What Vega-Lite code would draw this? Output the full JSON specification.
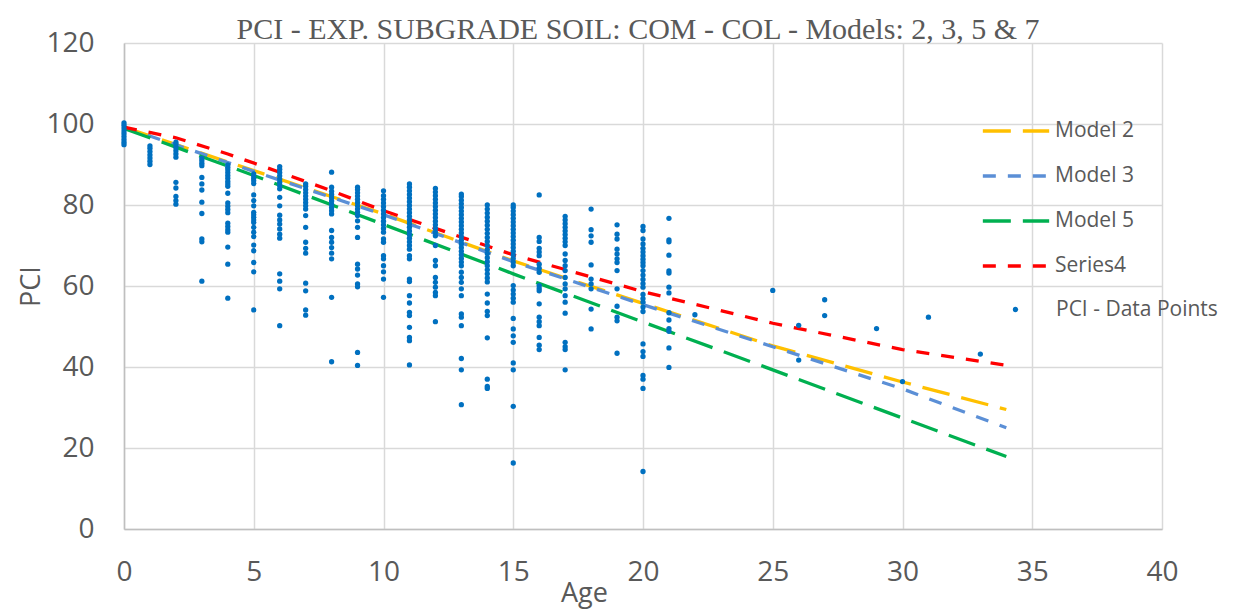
{
  "$schema": "https://vega.github.io/schema/vega-lite/v6.json",
  "width": 1038,
  "height": 486,
  "autosize": {"type": "none"},
  "padding": {"left": 124, "top": 43, "right": 91, "bottom": 86},
  "background": "white",
  "title": {
    "text": "PCI - EXP. SUBGRADE SOIL: COM - COL - Models:  2, 3, 5 & 7",
    "font": "Liberation Serif",
    "fontSize": 30,
    "fontWeight": "normal",
    "color": "#595959",
    "frame": "group",
    "anchor": "middle",
    "baseline": "alphabetic",
    "offset": 8,
    "dx": -5,
    "dy": 48
  },
  "datasets": {
    "lines": [
      {"series": "Model 2", "age": 0, "pci": 99.2},
      {"series": "Model 2", "age": 5, "pci": 88.5},
      {"series": "Model 2", "age": 10, "pci": 77.8},
      {"series": "Model 2", "age": 15, "pci": 66.2},
      {"series": "Model 2", "age": 20, "pci": 55.7},
      {"series": "Model 2", "age": 25, "pci": 45.2},
      {"series": "Model 2", "age": 30, "pci": 36.3},
      {"series": "Model 2", "age": 34, "pci": 29.5},
      {"series": "Model 3", "age": 0, "pci": 99.2},
      {"series": "Model 3", "age": 5, "pci": 88.3},
      {"series": "Model 3", "age": 10, "pci": 77.6},
      {"series": "Model 3", "age": 15, "pci": 66.0},
      {"series": "Model 3", "age": 20, "pci": 55.4},
      {"series": "Model 3", "age": 25, "pci": 45.0},
      {"series": "Model 3", "age": 30, "pci": 34.6},
      {"series": "Model 3", "age": 34, "pci": 25.0},
      {"series": "Model 5", "age": 0, "pci": 98.9},
      {"series": "Model 5", "age": 5, "pci": 87.3},
      {"series": "Model 5", "age": 10, "pci": 75.2},
      {"series": "Model 5", "age": 15, "pci": 63.0},
      {"series": "Model 5", "age": 20, "pci": 51.1},
      {"series": "Model 5", "age": 25, "pci": 39.3},
      {"series": "Model 5", "age": 30, "pci": 27.4},
      {"series": "Model 5", "age": 34, "pci": 17.9},
      {"series": "Series4", "age": 0, "pci": 99.2},
      {"series": "Series4", "age": 2, "pci": 96.6},
      {"series": "Series4", "age": 4, "pci": 92.6},
      {"series": "Series4", "age": 6, "pci": 88.1},
      {"series": "Series4", "age": 8, "pci": 83.5},
      {"series": "Series4", "age": 10, "pci": 78.6},
      {"series": "Series4", "age": 15, "pci": 67.7},
      {"series": "Series4", "age": 20, "pci": 58.6},
      {"series": "Series4", "age": 25, "pci": 50.8},
      {"series": "Series4", "age": 30, "pci": 44.3},
      {"series": "Series4", "age": 34, "pci": 40.4}
    ],
    "points": [
      {"age": 0, "pci": 94.9}, {"age": 0, "pci": 95.5}, {"age": 0, "pci": 96.2}, {"age": 0, "pci": 96.9}, {"age": 0, "pci": 97.6}, {"age": 0, "pci": 98.3}, {"age": 0, "pci": 99.0}, {"age": 0, "pci": 99.7}, {"age": 0, "pci": 100.3},
      {"age": 1, "pci": 90.0}, {"age": 1, "pci": 90.8}, {"age": 1, "pci": 91.6}, {"age": 1, "pci": 92.4}, {"age": 1, "pci": 93.2}, {"age": 1, "pci": 94.0}, {"age": 1, "pci": 94.6},
      {"age": 2, "pci": 91.8}, {"age": 2, "pci": 92.6}, {"age": 2, "pci": 93.4}, {"age": 2, "pci": 94.2}, {"age": 2, "pci": 95.0}, {"age": 2, "pci": 95.5}, {"age": 2, "pci": 85.6}, {"age": 2, "pci": 84.2}, {"age": 2, "pci": 82.1}, {"age": 2, "pci": 81.1}, {"age": 2, "pci": 80.2},
      {"age": 3, "pci": 89.7}, {"age": 3, "pci": 90.3}, {"age": 3, "pci": 90.9}, {"age": 3, "pci": 91.5}, {"age": 3, "pci": 86.8}, {"age": 3, "pci": 85.2}, {"age": 3, "pci": 83.7}, {"age": 3, "pci": 80.7}, {"age": 3, "pci": 77.9}, {"age": 3, "pci": 71.6}, {"age": 3, "pci": 70.9}, {"age": 3, "pci": 61.2},
      {"age": 4, "pci": 86.6}, {"age": 4, "pci": 87.3}, {"age": 4, "pci": 88.0}, {"age": 4, "pci": 88.7}, {"age": 4, "pci": 89.3}, {"age": 4, "pci": 89.9}, {"age": 4, "pci": 85.8}, {"age": 4, "pci": 85.2}, {"age": 4, "pci": 84.6}, {"age": 4, "pci": 82.9}, {"age": 4, "pci": 80.5}, {"age": 4, "pci": 79.7}, {"age": 4, "pci": 78.9}, {"age": 4, "pci": 78.1}, {"age": 4, "pci": 75.5}, {"age": 4, "pci": 74.7}, {"age": 4, "pci": 73.9}, {"age": 4, "pci": 73.3}, {"age": 4, "pci": 69.6}, {"age": 4, "pci": 65.4}, {"age": 4, "pci": 57.0},
      {"age": 5, "pci": 85.3}, {"age": 5, "pci": 86.0}, {"age": 5, "pci": 86.6}, {"age": 5, "pci": 87.2}, {"age": 5, "pci": 87.7}, {"age": 5, "pci": 82.5}, {"age": 5, "pci": 81.1}, {"age": 5, "pci": 79.8}, {"age": 5, "pci": 78.2}, {"age": 5, "pci": 77.6}, {"age": 5, "pci": 77.0}, {"age": 5, "pci": 76.3}, {"age": 5, "pci": 75.7}, {"age": 5, "pci": 74.5}, {"age": 5, "pci": 73.3}, {"age": 5, "pci": 72.2}, {"age": 5, "pci": 70.1}, {"age": 5, "pci": 68.7}, {"age": 5, "pci": 65.8}, {"age": 5, "pci": 63.5}, {"age": 5, "pci": 54.1},
      {"age": 6, "pci": 84.0}, {"age": 6, "pci": 84.8}, {"age": 6, "pci": 85.6}, {"age": 6, "pci": 86.4}, {"age": 6, "pci": 87.2}, {"age": 6, "pci": 88.0}, {"age": 6, "pci": 88.8}, {"age": 6, "pci": 89.5}, {"age": 6, "pci": 81.9}, {"age": 6, "pci": 79.8}, {"age": 6, "pci": 77.5}, {"age": 6, "pci": 76.3}, {"age": 6, "pci": 75.3}, {"age": 6, "pci": 74.1}, {"age": 6, "pci": 72.8}, {"age": 6, "pci": 71.8}, {"age": 6, "pci": 63.0}, {"age": 6, "pci": 61.2}, {"age": 6, "pci": 59.3}, {"age": 6, "pci": 50.2},
      {"age": 7, "pci": 79.0}, {"age": 7, "pci": 79.8}, {"age": 7, "pci": 80.6}, {"age": 7, "pci": 81.4}, {"age": 7, "pci": 82.2}, {"age": 7, "pci": 83.0}, {"age": 7, "pci": 83.8}, {"age": 7, "pci": 84.6}, {"age": 7, "pci": 85.2}, {"age": 7, "pci": 77.4}, {"age": 7, "pci": 74.5}, {"age": 7, "pci": 70.8}, {"age": 7, "pci": 69.3}, {"age": 7, "pci": 68.1}, {"age": 7, "pci": 60.7}, {"age": 7, "pci": 58.8}, {"age": 7, "pci": 54.1}, {"age": 7, "pci": 52.8},
      {"age": 8, "pci": 88.1}, {"age": 8, "pci": 77.8}, {"age": 8, "pci": 78.6}, {"age": 8, "pci": 79.4}, {"age": 8, "pci": 80.2}, {"age": 8, "pci": 81.0}, {"age": 8, "pci": 81.8}, {"age": 8, "pci": 82.6}, {"age": 8, "pci": 83.4}, {"age": 8, "pci": 84.4}, {"age": 8, "pci": 73.7}, {"age": 8, "pci": 72.0}, {"age": 8, "pci": 70.8}, {"age": 8, "pci": 69.5}, {"age": 8, "pci": 68.1}, {"age": 8, "pci": 66.7}, {"age": 8, "pci": 57.2}, {"age": 8, "pci": 41.3},
      {"age": 9, "pci": 79.0}, {"age": 9, "pci": 79.8}, {"age": 9, "pci": 80.6}, {"age": 9, "pci": 81.4}, {"age": 9, "pci": 82.2}, {"age": 9, "pci": 83.0}, {"age": 9, "pci": 83.8}, {"age": 9, "pci": 84.4}, {"age": 9, "pci": 78.2}, {"age": 9, "pci": 77.4}, {"age": 9, "pci": 76.1}, {"age": 9, "pci": 74.5}, {"age": 9, "pci": 72.0}, {"age": 9, "pci": 65.4}, {"age": 9, "pci": 64.2}, {"age": 9, "pci": 62.7}, {"age": 9, "pci": 60.5}, {"age": 9, "pci": 59.8}, {"age": 9, "pci": 43.6}, {"age": 9, "pci": 40.4},
      {"age": 10, "pci": 83.5}, {"age": 10, "pci": 73.3}, {"age": 10, "pci": 74.2}, {"age": 10, "pci": 75.1}, {"age": 10, "pci": 76.0}, {"age": 10, "pci": 76.9}, {"age": 10, "pci": 77.8}, {"age": 10, "pci": 78.7}, {"age": 10, "pci": 79.6}, {"age": 10, "pci": 80.5}, {"age": 10, "pci": 81.4}, {"age": 10, "pci": 82.3}, {"age": 10, "pci": 71.6}, {"age": 10, "pci": 70.8}, {"age": 10, "pci": 67.5}, {"age": 10, "pci": 66.7}, {"age": 10, "pci": 65.0}, {"age": 10, "pci": 63.5}, {"age": 10, "pci": 61.7}, {"age": 10, "pci": 57.2},
      {"age": 11, "pci": 69.1}, {"age": 11, "pci": 70.0}, {"age": 11, "pci": 70.9}, {"age": 11, "pci": 71.8}, {"age": 11, "pci": 72.7}, {"age": 11, "pci": 73.6}, {"age": 11, "pci": 74.5}, {"age": 11, "pci": 75.4}, {"age": 11, "pci": 76.3}, {"age": 11, "pci": 77.2}, {"age": 11, "pci": 78.1}, {"age": 11, "pci": 79.0}, {"age": 11, "pci": 79.9}, {"age": 11, "pci": 80.8}, {"age": 11, "pci": 81.7}, {"age": 11, "pci": 82.6}, {"age": 11, "pci": 83.5}, {"age": 11, "pci": 84.4}, {"age": 11, "pci": 85.2}, {"age": 11, "pci": 67.5}, {"age": 11, "pci": 66.7}, {"age": 11, "pci": 61.7}, {"age": 11, "pci": 61.1}, {"age": 11, "pci": 57.6}, {"age": 11, "pci": 55.8}, {"age": 11, "pci": 53.5}, {"age": 11, "pci": 52.7}, {"age": 11, "pci": 49.8}, {"age": 11, "pci": 47.3}, {"age": 11, "pci": 46.5}, {"age": 11, "pci": 40.5},
      {"age": 12, "pci": 72.4}, {"age": 12, "pci": 73.3}, {"age": 12, "pci": 74.2}, {"age": 12, "pci": 75.1}, {"age": 12, "pci": 76.0}, {"age": 12, "pci": 76.9}, {"age": 12, "pci": 77.8}, {"age": 12, "pci": 78.7}, {"age": 12, "pci": 79.6}, {"age": 12, "pci": 80.5}, {"age": 12, "pci": 81.4}, {"age": 12, "pci": 82.3}, {"age": 12, "pci": 83.2}, {"age": 12, "pci": 84.1}, {"age": 12, "pci": 70.0}, {"age": 12, "pci": 66.3}, {"age": 12, "pci": 65.0}, {"age": 12, "pci": 62.1}, {"age": 12, "pci": 60.9}, {"age": 12, "pci": 59.7}, {"age": 12, "pci": 58.4}, {"age": 12, "pci": 57.6}, {"age": 12, "pci": 51.2},
      {"age": 13, "pci": 65.0}, {"age": 13, "pci": 65.9}, {"age": 13, "pci": 66.8}, {"age": 13, "pci": 67.7}, {"age": 13, "pci": 68.6}, {"age": 13, "pci": 69.5}, {"age": 13, "pci": 70.4}, {"age": 13, "pci": 71.3}, {"age": 13, "pci": 72.2}, {"age": 13, "pci": 73.1}, {"age": 13, "pci": 74.0}, {"age": 13, "pci": 74.9}, {"age": 13, "pci": 75.8}, {"age": 13, "pci": 76.7}, {"age": 13, "pci": 77.6}, {"age": 13, "pci": 78.5}, {"age": 13, "pci": 79.4}, {"age": 13, "pci": 80.3}, {"age": 13, "pci": 81.2}, {"age": 13, "pci": 82.1}, {"age": 13, "pci": 82.7}, {"age": 13, "pci": 63.4}, {"age": 13, "pci": 62.1}, {"age": 13, "pci": 60.9}, {"age": 13, "pci": 59.3}, {"age": 13, "pci": 57.6}, {"age": 13, "pci": 53.1}, {"age": 13, "pci": 52.3}, {"age": 13, "pci": 50.2}, {"age": 13, "pci": 42.1}, {"age": 13, "pci": 39.3}, {"age": 13, "pci": 30.7},
      {"age": 14, "pci": 61.0}, {"age": 14, "pci": 62.0}, {"age": 14, "pci": 63.0}, {"age": 14, "pci": 64.0}, {"age": 14, "pci": 65.0}, {"age": 14, "pci": 66.0}, {"age": 14, "pci": 67.0}, {"age": 14, "pci": 68.0}, {"age": 14, "pci": 69.0}, {"age": 14, "pci": 70.0}, {"age": 14, "pci": 71.0}, {"age": 14, "pci": 72.0}, {"age": 14, "pci": 73.0}, {"age": 14, "pci": 74.0}, {"age": 14, "pci": 75.0}, {"age": 14, "pci": 76.0}, {"age": 14, "pci": 77.0}, {"age": 14, "pci": 78.0}, {"age": 14, "pci": 79.0}, {"age": 14, "pci": 80.0}, {"age": 14, "pci": 58.0}, {"age": 14, "pci": 55.8}, {"age": 14, "pci": 53.7}, {"age": 14, "pci": 52.7}, {"age": 14, "pci": 47.2}, {"age": 14, "pci": 37.0}, {"age": 14, "pci": 35.2}, {"age": 14, "pci": 34.7},
      {"age": 15, "pci": 65.0}, {"age": 15, "pci": 65.9}, {"age": 15, "pci": 66.8}, {"age": 15, "pci": 67.7}, {"age": 15, "pci": 68.6}, {"age": 15, "pci": 69.5}, {"age": 15, "pci": 70.4}, {"age": 15, "pci": 71.3}, {"age": 15, "pci": 72.2}, {"age": 15, "pci": 73.1}, {"age": 15, "pci": 74.0}, {"age": 15, "pci": 74.9}, {"age": 15, "pci": 75.8}, {"age": 15, "pci": 76.7}, {"age": 15, "pci": 77.6}, {"age": 15, "pci": 78.5}, {"age": 15, "pci": 79.4}, {"age": 15, "pci": 80.0}, {"age": 15, "pci": 60.1}, {"age": 15, "pci": 59.0}, {"age": 15, "pci": 58.0}, {"age": 15, "pci": 57.0}, {"age": 15, "pci": 56.0}, {"age": 15, "pci": 52.0}, {"age": 15, "pci": 49.4}, {"age": 15, "pci": 47.7}, {"age": 15, "pci": 46.1}, {"age": 15, "pci": 41.0}, {"age": 15, "pci": 39.3}, {"age": 15, "pci": 30.3}, {"age": 15, "pci": 16.3},
      {"age": 16, "pci": 82.5}, {"age": 16, "pci": 72.0}, {"age": 16, "pci": 71.0}, {"age": 16, "pci": 69.3}, {"age": 16, "pci": 68.4}, {"age": 16, "pci": 67.5}, {"age": 16, "pci": 65.4}, {"age": 16, "pci": 64.4}, {"age": 16, "pci": 63.4}, {"age": 16, "pci": 60.1}, {"age": 16, "pci": 59.4}, {"age": 16, "pci": 58.8}, {"age": 16, "pci": 55.6}, {"age": 16, "pci": 52.3}, {"age": 16, "pci": 51.2}, {"age": 16, "pci": 50.2}, {"age": 16, "pci": 47.3}, {"age": 16, "pci": 45.4}, {"age": 16, "pci": 44.3},
      {"age": 17, "pci": 70.0}, {"age": 17, "pci": 70.9}, {"age": 17, "pci": 71.8}, {"age": 17, "pci": 72.7}, {"age": 17, "pci": 73.6}, {"age": 17, "pci": 74.5}, {"age": 17, "pci": 75.4}, {"age": 17, "pci": 76.3}, {"age": 17, "pci": 77.2}, {"age": 17, "pci": 67.9}, {"age": 17, "pci": 66.3}, {"age": 17, "pci": 65.0}, {"age": 17, "pci": 63.8}, {"age": 17, "pci": 62.1}, {"age": 17, "pci": 60.5}, {"age": 17, "pci": 59.3}, {"age": 17, "pci": 57.6}, {"age": 17, "pci": 56.0}, {"age": 17, "pci": 53.3}, {"age": 17, "pci": 46.1}, {"age": 17, "pci": 45.0}, {"age": 17, "pci": 44.3}, {"age": 17, "pci": 39.3},
      {"age": 18, "pci": 79.0}, {"age": 18, "pci": 73.9}, {"age": 18, "pci": 72.4}, {"age": 18, "pci": 70.8}, {"age": 18, "pci": 65.2}, {"age": 18, "pci": 61.7}, {"age": 18, "pci": 60.5}, {"age": 18, "pci": 59.3}, {"age": 18, "pci": 54.3}, {"age": 18, "pci": 49.4},
      {"age": 19, "pci": 75.1}, {"age": 19, "pci": 72.8}, {"age": 19, "pci": 71.6}, {"age": 19, "pci": 69.1}, {"age": 19, "pci": 67.9}, {"age": 19, "pci": 66.7}, {"age": 19, "pci": 65.8}, {"age": 19, "pci": 63.8}, {"age": 19, "pci": 59.3}, {"age": 19, "pci": 55.0}, {"age": 19, "pci": 52.3}, {"age": 19, "pci": 51.4}, {"age": 19, "pci": 43.4},
      {"age": 20, "pci": 74.7}, {"age": 20, "pci": 73.7}, {"age": 20, "pci": 71.6}, {"age": 20, "pci": 70.4}, {"age": 20, "pci": 69.3}, {"age": 20, "pci": 68.4}, {"age": 20, "pci": 67.5}, {"age": 20, "pci": 66.6}, {"age": 20, "pci": 65.8}, {"age": 20, "pci": 65.0}, {"age": 20, "pci": 63.8}, {"age": 20, "pci": 62.7}, {"age": 20, "pci": 61.6}, {"age": 20, "pci": 60.6}, {"age": 20, "pci": 59.7}, {"age": 20, "pci": 57.9}, {"age": 20, "pci": 56.9}, {"age": 20, "pci": 56.0}, {"age": 20, "pci": 54.8}, {"age": 20, "pci": 53.7}, {"age": 20, "pci": 45.7}, {"age": 20, "pci": 43.8}, {"age": 20, "pci": 42.6}, {"age": 20, "pci": 37.9}, {"age": 20, "pci": 37.0}, {"age": 20, "pci": 34.7}, {"age": 20, "pci": 14.2},
      {"age": 21, "pci": 76.7}, {"age": 21, "pci": 71.4}, {"age": 21, "pci": 70.9}, {"age": 21, "pci": 67.6}, {"age": 21, "pci": 63.7}, {"age": 21, "pci": 63.2}, {"age": 21, "pci": 59.7}, {"age": 21, "pci": 58.3}, {"age": 21, "pci": 53.4}, {"age": 21, "pci": 51.6}, {"age": 21, "pci": 49.5}, {"age": 21, "pci": 48.8}, {"age": 21, "pci": 44.7}, {"age": 21, "pci": 39.9},
      {"age": 22, "pci": 52.9},
      {"age": 25, "pci": 58.9},
      {"age": 26, "pci": 50.3}, {"age": 26, "pci": 41.7},
      {"age": 27, "pci": 56.6}, {"age": 27, "pci": 52.7},
      {"age": 29, "pci": 49.5},
      {"age": 30, "pci": 36.4},
      {"age": 31, "pci": 52.3},
      {"age": 33, "pci": 43.2}
    ]
  },
  "layer": [
    {
      "data": {"name": "lines"},
      "mark": {"type": "line", "strokeWidth": 3.3, "strokeCap": "butt"},
      "encoding": {
        "x": {"field": "age", "type": "quantitative", "scale": {"domain": [0, 40], "nice": false}, "axis": {"values": [0, 5, 10, 15, 20, 25, 30, 35, 40], "title": "Age", "labelPadding": 29, "titleX": 460, "titleY": 72, "titleBaseline": "alphabetic", "titleAlign": "center", "labelFlush": false}},
        "y": {"field": "pci", "type": "quantitative", "scale": {"domain": [0, 120], "nice": false}, "axis": {"values": [0, 20, 40, 60, 80, 100, 120], "title": "PCI", "labelPadding": 30, "titleX": -93, "titleY": 243, "titleAngle": -90, "titleAlign": "center", "titleBaseline": "middle", "labelFlush": false}},
        "color": {
          "field": "series", "type": "nominal",
          "scale": {"domain": ["Model 2", "Model 3", "Model 5", "Series4"], "range": ["#FFC000", "#5B8FD6", "#00B050", "#FF0000"]},
          "legend": {"orient": "none", "legendX": 857, "legendY": 53, "title": null, "symbolType": "stroke", "symbolSize": 4400, "symbolStrokeWidth": 3.3, "labelOffset": 4, "rowPadding": 0}
        },
        "strokeDash": {
          "field": "series", "type": "nominal",
          "scale": {"domain": ["Model 2", "Model 3", "Model 5", "Series4"], "range": [[28, 12], [13, 12], [28, 12], [13, 12]]},
          "legend": {"orient": "none", "legendX": 857, "legendY": 53, "title": null, "symbolType": "stroke", "symbolSize": 4400, "symbolStrokeWidth": 3.3, "labelOffset": 4, "rowPadding": 0}
        }
      }
    },
    {
      "data": {"name": "points"},
      "mark": {"type": "point", "filled": true, "color": "#0070C0", "size": 28, "opacity": 1},
      "encoding": {
        "x": {"field": "age", "type": "quantitative"},
        "y": {"field": "pci", "type": "quantitative"},
        "shape": {
          "datum": "PCI - Data Points", "type": "nominal",
          "scale": {"range": ["circle"]},
          "legend": {"orient": "none", "legendX": 881, "legendY": 256, "title": null, "symbolSize": 28, "symbolFillColor": "#0070C0", "symbolStrokeColor": "#0070C0", "labelOffset": 30}
        }
      }
    }
  ],
  "config": {
    "view": {"stroke": null},
    "font": "Open Sans",
    "axis": {
      "labelFont": "Open Sans", "labelFontSize": 28, "labelColor": "#595959",
      "titleFont": "Open Sans", "titleFontSize": 27, "titleColor": "#595959", "titleFontWeight": "normal",
      "gridColor": "#D9D9D9", "gridWidth": 1.5, "domainColor": "#BFBFBF", "domainWidth": 1.5,
      "ticks": false, "tickSize": 0
    },
    "legend": {"labelFont": "Open Sans", "labelFontSize": 21, "labelColor": "#595959", "labelLimit": 400}
  }
}
